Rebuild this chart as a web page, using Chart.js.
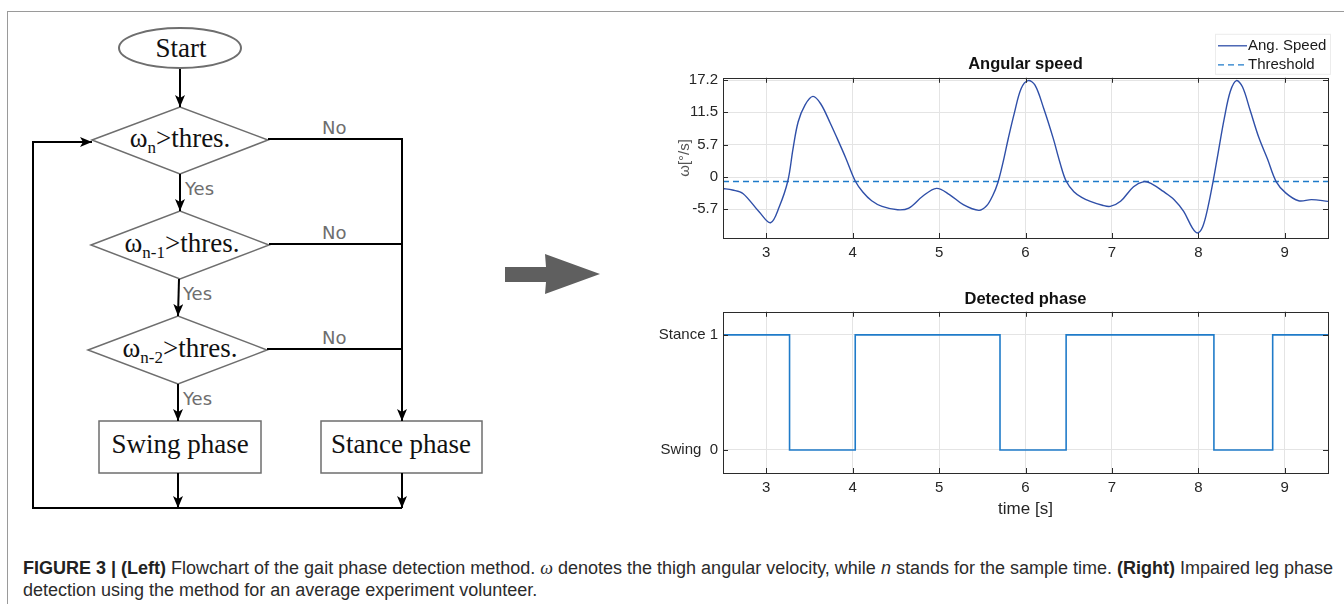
<!DOCTYPE html>
<html lang="en">

<head>
    <meta charset="UTF-8">
    <title>Gait phase detection</title>
    <script src="https://cdn.jsdelivr.net/npm/chart.js@4.4.0/dist/chart.umd.min.js"></script>
    <style>
        body { margin: 0; background: #fff; overflow: hidden; }
        #page { position: relative; width: 1344px; height: 604px; overflow: hidden; background: #fff; }
        .edge { position: absolute; background: #9a9a9a; }
        #flow { position: absolute; left: 0; top: 0; }
        canvas { position: absolute; }
        /* canvases run past the right edge so the titles centre on the plot area */
        #speedChart { left: 640px; top: 30px; }
        #phaseChart { left: 640px; top: 270px; }
        #caption {
            position: absolute; left: 23px; top: 557px; width: 1320px;
            font-family: "Liberation Sans", Arial, sans-serif; font-size: 18px; line-height: 22px;
            color: #2b2b2b; white-space: nowrap;
        }
        #caption b { color: #222; }
        #caption .w { font-family: "Liberation Serif", serif; font-style: italic; }
    </style>
</head>

<body>
    <div id="page">
        <div class="edge" style="left:7px; top:11px; width:1337px; height:1px;"></div>
        <div class="edge" style="left:7px; top:11px; width:1px; height:593px;"></div>

        <svg id="flow" width="640" height="540" xmlns="http://www.w3.org/2000/svg">
            <defs>
                <marker id="head" markerUnits="userSpaceOnUse" markerWidth="12" markerHeight="10"
                    refX="12" refY="5" orient="auto">
                    <path d="M0,0 L12,5 L0,10 L3,5 z" fill="#000" />
                </marker>
            </defs>
            <g fill="none" stroke="#6e6e6e" stroke-width="1.5">
                <ellipse cx="180" cy="48" rx="61" ry="20" stroke-width="2" />
                <polygon points="92,140 180,107 268,140 180,174" />
                <polygon points="91,245 180,211 269,245 180,279" />
                <polygon points="88,350 178,316 267,350 178,384" />
                <rect x="99" y="421" width="162" height="52" />
                <rect x="321" y="421" width="161" height="52" />
            </g>
            <g fill="none" stroke="#000" stroke-width="2">
                <line x1="180" y1="69" x2="180" y2="107" marker-end="url(#head)" />
                <line x1="180" y1="174" x2="180" y2="211" marker-end="url(#head)" />
                <line x1="179" y1="279" x2="178" y2="316" marker-end="url(#head)" />
                <line x1="178" y1="384" x2="178" y2="421" marker-end="url(#head)" />
                <line x1="178" y1="473" x2="178" y2="508" marker-end="url(#head)" />
                <line x1="402" y1="473" x2="402" y2="508" marker-end="url(#head)" />
                <polyline points="268,139 402,139 402,421" marker-end="url(#head)" />
                <line x1="269" y1="244" x2="402" y2="244" />
                <line x1="267" y1="349" x2="402" y2="349" />
                <polyline points="402,508 33,508 33,142 92,142" marker-end="url(#head)" />
            </g>
            <g font-family="Liberation Serif, 'Times New Roman', serif" font-size="27" fill="#111" text-anchor="middle">
                <text x="181" y="57">Start</text>
                <text x="180" y="147">ω<tspan font-size="17" dy="6">n</tspan><tspan dy="-6">&gt;thres.</tspan></text>
                <text x="182" y="252">ω<tspan font-size="17" dy="6">n-1</tspan><tspan dy="-6">&gt;thres.</tspan></text>
                <text x="180" y="357">ω<tspan font-size="17" dy="6">n-2</tspan><tspan dy="-6">&gt;thres.</tspan></text>
                <text x="180" y="453">Swing phase</text>
                <text x="401" y="453">Stance phase</text>
            </g>
            <g font-family="'DejaVu Sans', Verdana, sans-serif" font-size="18" fill="#6e6e6e">
                <text x="322" y="134">No</text>
                <text x="322" y="239">No</text>
                <text x="322" y="344">No</text>
                <text x="185" y="195">Yes</text>
                <text x="183" y="300">Yes</text>
                <text x="183" y="405">Yes</text>
            </g>
            <polygon points="505,267 546,267 545,254 600,274 545,294 546,282 505,282" fill="#5f5f5f" />
        </svg>

        <canvas id="speedChart" width="771" height="232"></canvas>
        <canvas id="phaseChart" width="771" height="255"></canvas>

        <div id="caption"><b>FIGURE 3 | (Left)</b> Flowchart of the gait phase detection method. <span class="w">ω</span> denotes the thigh angular velocity, while <i>n</i> stands for the sample time. <b>(Right)</b> Impaired leg phase<br>detection using the method for an average experiment volunteer.</div>
    </div>

    <script>
        // angular speed (time in s, speed in deg/s)
        const speedTimes = [2.49, 2.61, 2.73, 2.92, 3.05, 3.15, 3.25, 3.31, 3.37, 3.45, 3.54, 3.63, 3.74, 3.82, 3.92,
            4.03, 4.12, 4.22, 4.34, 4.52, 4.65, 4.81, 4.97, 5.12, 5.28, 5.46, 5.55, 5.62, 5.68, 5.74, 5.80, 5.87, 5.95,
            6.03, 6.11, 6.21, 6.32, 6.40, 6.47, 6.56, 6.65, 6.75, 6.89, 6.98, 7.10, 7.25, 7.37, 7.46, 7.59, 7.72, 7.83,
            7.93, 7.99, 8.05, 8.11, 8.17, 8.23, 8.30, 8.37, 8.44, 8.51, 8.60, 8.70, 8.80, 8.90, 9.01, 9.16, 9.31, 9.50]
        const speedValues = [-2.0, -2.3, -2.9, -6.2, -8.1, -5.3, -0.7, 5.0, 9.8, 12.8, 14.3, 13.0, 9.6, 6.9, 3.4,
            -0.7, -2.7, -4.2, -5.2, -5.8, -5.5, -3.4, -2.0, -3.1, -4.9, -5.9, -5.1, -3.3, -1.0, 2.6, 6.8, 11.3, 15.7,
            17.1, 16.3, 12.2, 6.9, 2.5, -0.7, -2.6, -3.6, -4.3, -5.0, -5.2, -4.3, -1.7, -0.8, -1.2, -2.5, -4.0, -6.1,
            -9.0, -9.9, -8.8, -5.4, -0.8, 4.4, 10.4, 15.2, 17.1, 16.0, 11.8, 7.0, 3.2, -0.8, -2.8, -4.2, -4.0, -4.3]
        const thresholdTimes = [2.5, 9.5]
        const thresholdValues = [-0.8, -0.8]

        // detected phase: state that starts at each time (1 = stance, 0 = swing)
        const phaseTimes = [2.5, 3.27, 4.03, 5.705, 6.47, 8.18, 8.86, 9.5]
        const phaseStates = [1, 0, 1, 0, 1, 0, 1, 1]

        const timeTicks = [3, 4, 5, 6, 7, 8, 9]
        const speedTicks = [-5.7, 0, 5.7, 11.5, 17.2]
        const phaseTicks = [0, 1]
        const phaseNames = { 0: "Swing  0", 1: "Stance 1" }

        Chart.defaults.font.family = '"Liberation Sans", Arial, sans-serif'
        Chart.defaults.font.size = 15
        Chart.defaults.color = '#262626'

        function pairs(xs, ys) {
            return xs.map((x, i) => ({ x: x, y: ys[i] }))
        }

        // matlab style box with inward tick marks
        const framePlugin = {
            id: 'frame',
            afterDraw(chart) {
                const { ctx, chartArea: a, scales } = chart
                ctx.save()
                ctx.strokeStyle = '#2b2b2b'
                ctx.lineWidth = 1
                ctx.beginPath()
                for (const t of scales.x.ticks) {
                    const px = Math.round(scales.x.getPixelForValue(t.value)) + 0.5
                    ctx.moveTo(px, a.bottom); ctx.lineTo(px, a.bottom - 5)
                    ctx.moveTo(px, a.top); ctx.lineTo(px, a.top + 5)
                }
                for (const t of scales.y.ticks) {
                    const py = Math.round(scales.y.getPixelForValue(t.value)) + 0.5
                    ctx.moveTo(a.left, py); ctx.lineTo(a.left + 5, py)
                    ctx.moveTo(a.right, py); ctx.lineTo(a.right - 5, py)
                }
                ctx.stroke()
                ctx.strokeRect(Math.round(a.left) + 0.5, Math.round(a.top) + 0.5,
                    Math.round(a.right - a.left), Math.round(a.bottom - a.top))
                ctx.restore()
            }
        }

        // small legend box sitting above the top right of the plot
        const legendBoxPlugin = {
            id: 'legendBox',
            afterDraw(chart, args, opts) {
                if (!opts.show) return
                const { ctx, chartArea: a } = chart
                const right = a.right + 2, bottom = a.top - 4
                const w = 115, h = 40
                ctx.save()
                ctx.fillStyle = '#fff'
                ctx.strokeStyle = '#ececec'
                ctx.fillRect(right - w, bottom - h, w, h)
                ctx.strokeRect(right - w + 0.5, bottom - h + 0.5, w, h)
                ctx.font = '15px "Liberation Sans", Arial, sans-serif'
                ctx.textBaseline = 'middle'
                chart.data.datasets.forEach((ds, i) => {
                    const y = bottom - h + 12 + i * 19
                    ctx.strokeStyle = ds.borderColor
                    ctx.lineWidth = 1.3
                    ctx.setLineDash(ds.borderDash || [])
                    ctx.beginPath()
                    ctx.moveTo(right - w + 3, y)
                    ctx.lineTo(right - w + 32, y)
                    ctx.stroke()
                    ctx.setLineDash([])
                    ctx.fillStyle = '#1a1a1a'
                    ctx.fillText(ds.label, right - w + 33, y)
                })
                ctx.restore()
            }
        }

        function baseScales(yTicks, yMin, yMax, yLabel, xTitle, xHeight, yTitle) {
            return {
                x: {
                    type: 'linear', min: 2.5, max: 9.5,
                    grid: { color: '#e4e4e4', drawTicks: false },
                    border: { display: false },
                    ticks: { padding: 6, color: '#262626' },
                    afterBuildTicks: (s) => { s.ticks = timeTicks.map(v => ({ value: v })) },
                    afterFit: (s) => { s.height = xHeight },
                    title: xTitle
                },
                y: {
                    min: yMin, max: yMax,
                    grid: { color: '#e4e4e4', drawTicks: false },
                    border: { display: false },
                    ticks: { padding: 5, color: '#262626', callback: yLabel },
                    afterBuildTicks: (s) => { s.ticks = yTicks.map(v => ({ value: v })) },
                    afterFit: (s) => { s.width = 83 },
                    title: yTitle
                },
                // empty right axis, only there to keep the plot box where it is
                spacer: {
                    position: 'right', min: yMin, max: yMax,
                    grid: { display: false },
                    border: { display: false },
                    ticks: { display: false },
                    afterFit: (s) => { s.width = 83 }
                }
            }
        }

        new Chart(document.getElementById('speedChart'), {
            type: 'line',
            data: {
                datasets: [{
                    label: 'Ang. Speed',
                    data: pairs(speedTimes, speedValues),
                    borderColor: '#2f4fa8',
                    borderWidth: 1.4,
                    pointRadius: 0,
                    tension: 0.35
                }, {
                    label: 'Threshold',
                    data: pairs(thresholdTimes, thresholdValues),
                    borderColor: '#1f7bc9',
                    borderWidth: 1.5,
                    borderDash: [6, 4],
                    pointRadius: 0
                }]
            },
            options: {
                responsive: false,
                animation: false,
                devicePixelRatio: 1,
                layout: { padding: 0 },
                plugins: {
                    legend: { display: false },
                    tooltip: { enabled: false },
                    title: {
                        display: true, text: 'Angular speed', color: '#111',
                        font: { size: 16.5, weight: 'bold' }, padding: { top: 25, bottom: 3 }
                    },
                    legendBox: { show: true }
                },
                scales: baseScales(speedTicks, -10.8, 17.6, (v) => String(v), { display: false }, 24,
                    { display: true, text: 'ω[°/s]', color: '#555', font: { size: 15 }, padding: { top: 36, bottom: 0 } })
            },
            plugins: [framePlugin, legendBoxPlugin]
        });

        new Chart(document.getElementById('phaseChart'), {
            type: 'line',
            data: {
                datasets: [{
                    label: 'Phase',
                    data: pairs(phaseTimes, phaseStates),
                    borderColor: '#1f7bc9',
                    borderWidth: 1.6,
                    pointRadius: 0,
                    stepped: 'before'
                }]
            },
            options: {
                responsive: false,
                animation: false,
                devicePixelRatio: 1,
                layout: { padding: 0 },
                plugins: {
                    legend: { display: false },
                    tooltip: { enabled: false },
                    title: {
                        display: true, text: 'Detected phase', color: '#111',
                        font: { size: 16.5, weight: 'bold' }, padding: { top: 20, bottom: 2 }
                    },
                    legendBox: { show: false }
                },
                scales: baseScales(phaseTicks, -0.2, 1.2, (v) => phaseNames[v],
                    { display: true, text: 'time [s]', color: '#262626', font: { size: 17 }, padding: { top: 0, bottom: 5 } }, 52,
                    { display: false })
            },
            plugins: [framePlugin, legendBoxPlugin]
        });
    </script>
</body>

</html>
